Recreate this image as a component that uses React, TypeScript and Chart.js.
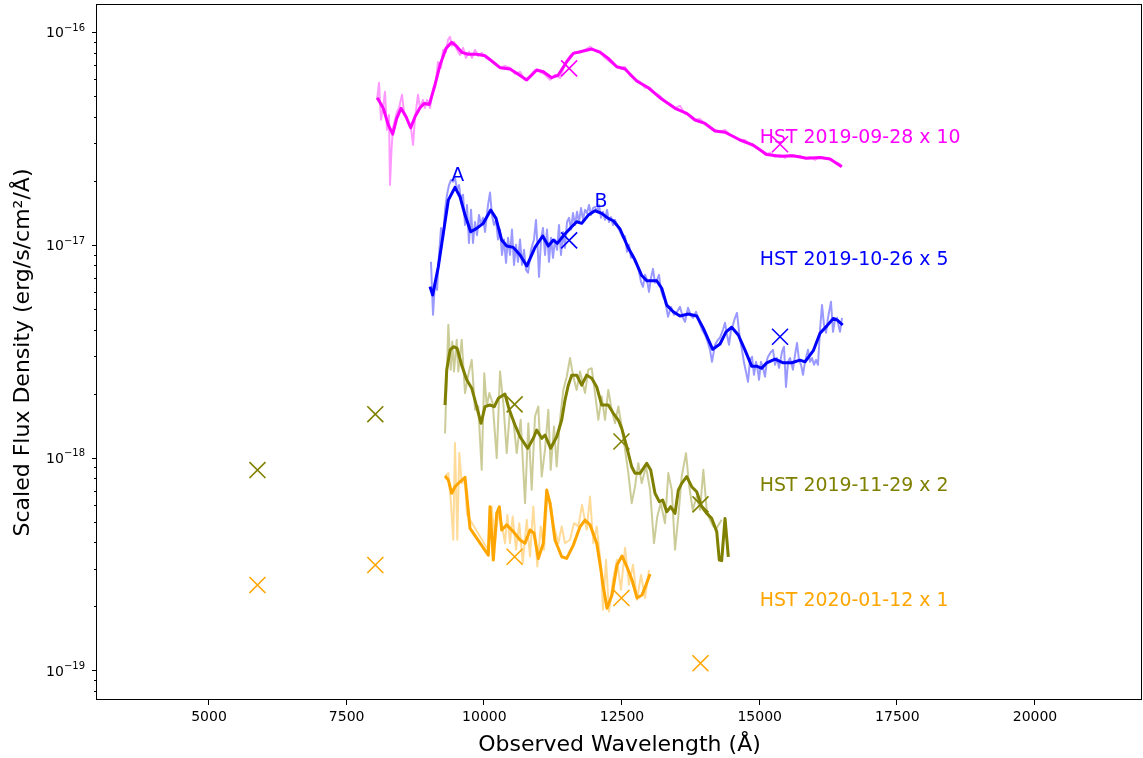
import React, { useEffect, useRef } from 'react';
import { Chart, registerables } from 'chart.js';

Chart.register(...registerables);

type P = [number, number];

// ---- axes ----
const X_MIN = 2966;
const X_MAX = 21943;
const Y_MIN = 7.26e-20;
const Y_MAX = 1.34e-16;
const xTicks = [5000, 7500, 10000, 12500, 15000, 17500, 20000];
const xTickLabels = ['5000', '7500', '10000', '12500', '15000', '17500', '20000'];
const yMajorTicks = [1e-19, 1e-18, 1e-17, 1e-16];
const yTickBase = '10';
const yTickExponents = ['−19', '−18', '−17', '−16'];
const yMinorMultipliers = [2, 3, 4, 5, 6, 7, 8, 9];
const xTitle = 'Observed Wavelength (Å)';
const yTitle = 'Scaled Flux Density (erg/s/cm²/Å)';

// ---- series colours ----
const seriesColors = ['#ff00ff', '#0000ff', '#808000', '#ffa500'];
const rawColors = ['rgba(255,0,255,0.4)', 'rgba(0,0,255,0.4)', 'rgba(128,128,0,0.4)', 'rgba(255,165,0,0.4)'];

// ---- HST 2019-09-28 x 10 (magenta) ----
const magentaRaw: P[] = [[8051,4.80e-17],[8087,5.77e-17],[8123,3.87e-17],[8160,4.40e-17],[8196,5.24e-17],[8232,3.47e-17],[8269,4.08e-17],[8287,1.91e-17],[8314,2.80e-17],[8341,3.55e-17],[8378,3.87e-17],[8414,4.22e-17],[8450,4.40e-17],[8505,5.07e-17],[8541,4.22e-17],[8596,3.95e-17],[8632,3.66e-17],[8668,3.55e-17],[8705,2.95e-17],[8741,3.95e-17],[8795,5.07e-17],[8832,4.40e-17],[8886,4.80e-17],[8922,4.40e-17],[8959,4.80e-17],[9013,4.40e-17],[9068,5.35e-17],[9122,5.96e-17],[9159,7.24e-17],[9213,6.79e-17],[9249,8.25e-17],[9304,8.07e-17],[9340,9.19e-17],[9377,9.49e-17],[9413,8.61e-17],[9449,8.99e-17],[9504,8.25e-17],[9558,7.81e-17],[9613,8.43e-17],[9667,7.56e-17],[9721,8.07e-17],[9776,7.56e-17],[9830,8.25e-17],[9885,7.73e-17],[9957,7.99e-17],[10030,7.56e-17],[10103,7.40e-17],[10194,7.09e-17],[10285,6.79e-17],[10375,6.94e-17],[10466,6.79e-17],[10557,6.36e-17],[10648,6.50e-17],[10739,5.96e-17],[10829,6.23e-17],[10920,6.64e-17],[11011,6.50e-17],[11102,6.30e-17],[11193,5.96e-17],[11283,6.30e-17],[11374,6.09e-17],[11465,7.09e-17],[11556,7.73e-17],[11647,8.07e-17],[11737,7.99e-17],[11828,8.25e-17],[11919,8.52e-17],[12010,8.16e-17],[12101,7.99e-17],[12191,7.56e-17],[12282,7.24e-17],[12373,6.94e-17],[12464,6.79e-17],[12555,6.86e-17],[12645,6.23e-17],[12736,6.03e-17],[12827,5.83e-17],[12918,5.47e-17],[13009,5.47e-17],[13099,5.18e-17],[13190,5.01e-17],[13281,4.70e-17],[13372,4.60e-17],[13463,4.40e-17],[13553,4.50e-17],[13644,4.13e-17],[13735,4.08e-17],[13826,3.87e-17],[13917,3.91e-17],[14007,3.70e-17],[14098,3.55e-17],[14189,3.47e-17],[14280,3.40e-17],[14371,3.47e-17],[14461,3.29e-17],[14552,3.22e-17],[14643,3.11e-17],[14734,3.11e-17],[14825,2.95e-17],[14915,2.89e-17],[15006,2.80e-17],[15097,2.65e-17],[15188,2.71e-17],[15279,2.59e-17],[15369,2.65e-17],[15460,2.56e-17],[15551,2.65e-17],[15642,2.59e-17],[15733,2.62e-17],[15823,2.54e-17],[15914,2.59e-17],[16005,2.51e-17],[16096,2.59e-17],[16187,2.56e-17],[16277,2.54e-17],[16368,2.45e-17],[16459,2.40e-17],[16495,2.33e-17]];
const magentaSmooth: P[] = [[8056,4.91e-17],[8165,4.38e-17],[8256,3.66e-17],[8336,3.31e-17],[8409,3.93e-17],[8487,4.38e-17],[8577,4.0e-17],[8663,3.55e-17],[8741,4.0e-17],[8832,4.41e-17],[8910,4.62e-17],[9001,4.57e-17],[9104,5.64e-17],[9195,7.0e-17],[9304,8.38e-17],[9407,8.95e-17],[9486,8.62e-17],[9589,8.03e-17],[9709,7.86e-17],[9861,7.86e-17],[10012,7.74e-17],[10134,7.31e-17],[10285,6.8e-17],[10466,6.7e-17],[10588,6.4e-17],[10770,5.95e-17],[10951,6.63e-17],[11071,6.51e-17],[11223,6.1e-17],[11343,6.28e-17],[11496,7.25e-17],[11616,7.94e-17],[11797,8.14e-17],[11950,8.32e-17],[12101,8.05e-17],[12251,7.52e-17],[12404,6.87e-17],[12555,6.7e-17],[12767,5.89e-17],[12978,5.47e-17],[13221,4.84e-17],[13463,4.38e-17],[13675,4.15e-17],[13826,3.86e-17],[14007,3.72e-17],[14189,3.43e-17],[14371,3.38e-17],[14643,3.11e-17],[14885,2.94e-17],[15128,2.66e-17],[15369,2.61e-17],[15611,2.62e-17],[15854,2.55e-17],[16096,2.57e-17],[16277,2.53e-17],[16490,2.33e-17]];
const magentaPhot: P[] = [[11540,6.75e-17],[15370,2.97e-17]];

// ---- HST 2019-10-26 x 5 (blue) ----
const blueRaw: P[] = [[9031,8.32e-18],[9068,4.69e-18],[9104,6.70e-18],[9141,6.14e-18],[9177,8.97e-18],[9213,1.20e-17],[9249,1.06e-17],[9286,1.46e-17],[9322,1.72e-17],[9358,1.91e-17],[9395,2.02e-17],[9431,1.98e-17],[9467,2.07e-17],[9504,1.81e-17],[9540,1.91e-17],[9576,1.63e-17],[9613,1.72e-17],[9649,1.24e-17],[9685,1.54e-17],[9721,1.02e-17],[9758,1.46e-17],[9794,1.02e-17],[9830,1.28e-17],[9867,1.11e-17],[9903,1.38e-17],[9939,1.24e-17],[9976,1.34e-17],[10012,1.15e-17],[10067,1.54e-17],[10103,1.76e-17],[10139,1.38e-17],[10176,1.24e-17],[10212,1.31e-17],[10248,1.06e-17],[10285,1.18e-17],[10321,8.97e-18],[10357,1.06e-17],[10394,8.23e-18],[10430,1.08e-17],[10466,8.97e-18],[10502,1.18e-17],[10539,8.05e-18],[10575,1.00e-17],[10611,8.32e-18],[10648,1.06e-17],[10684,8.05e-18],[10720,9.47e-18],[10757,7.63e-18],[10793,7.39e-18],[10847,9.47e-18],[10902,1.06e-17],[10938,1.31e-17],[10975,8.97e-18],[10993,7.07e-18],[11029,1.06e-17],[11065,1.20e-17],[11102,8.97e-18],[11138,1.18e-17],[11174,8.32e-18],[11211,1.08e-17],[11247,8.69e-18],[11283,1.06e-17],[11320,9.47e-18],[11356,1.24e-17],[11392,8.97e-18],[11429,1.15e-17],[11465,9.68e-18],[11501,1.28e-17],[11538,1.34e-17],[11574,1.18e-17],[11610,1.41e-17],[11647,1.24e-17],[11683,1.43e-17],[11719,1.28e-17],[11756,1.49e-17],[11792,1.31e-17],[11828,1.46e-17],[11864,1.41e-17],[11901,1.54e-17],[11937,1.38e-17],[11973,1.49e-17],[12010,1.51e-17],[12046,1.43e-17],[12082,1.54e-17],[12119,1.34e-17],[12155,1.43e-17],[12191,1.31e-17],[12228,1.46e-17],[12264,1.28e-17],[12300,1.35e-17],[12337,1.24e-17],[12373,1.31e-17],[12409,1.24e-17],[12464,1.15e-17],[12518,1.08e-17],[12555,1.10e-17],[12591,9.27e-18],[12627,1.00e-17],[12664,8.69e-18],[12700,8.97e-18],[12736,8.32e-18],[12773,8.05e-18],[12809,7.47e-18],[12845,6.70e-18],[12881,6.35e-18],[12918,7.23e-18],[12954,6.85e-18],[12990,6.01e-18],[13027,7.00e-18],[13063,7.71e-18],[13099,6.63e-18],[13136,6.85e-18],[13172,7.23e-18],[13208,6.14e-18],[13245,5.70e-18],[13281,5.51e-18],[13336,4.59e-18],[13390,5.11e-18],[13444,4.69e-18],[13499,4.84e-18],[13553,5.11e-18],[13608,4.54e-18],[13644,4.35e-18],[13699,5.06e-18],[13753,4.64e-18],[13789,4.54e-18],[13844,4.84e-18],[13898,4.35e-18],[13953,3.99e-18],[14007,3.78e-18],[14043,3.58e-18],[14098,3.21e-18],[14134,2.82e-18],[14189,3.39e-18],[14243,3.58e-18],[14280,3.66e-18],[14334,3.99e-18],[14371,4.30e-18],[14407,3.78e-18],[14443,3.39e-18],[14480,3.99e-18],[14516,4.21e-18],[14552,4.54e-18],[14588,4.79e-18],[14643,3.58e-18],[14679,3.21e-18],[14716,2.79e-18],[14752,2.53e-18],[14788,2.27e-18],[14825,2.88e-18],[14861,2.98e-18],[14897,2.45e-18],[14934,2.82e-18],[14970,2.53e-18],[14988,2.32e-18],[15024,2.82e-18],[15061,2.64e-18],[15097,2.40e-18],[15133,2.88e-18],[15151,2.98e-18],[15206,3.14e-18],[15242,3.21e-18],[15279,2.73e-18],[15315,2.94e-18],[15351,2.64e-18],[15406,3.14e-18],[15442,3.32e-18],[15478,2.15e-18],[15515,2.82e-18],[15551,2.94e-18],[15605,2.59e-18],[15642,3.04e-18],[15678,3.46e-18],[15714,2.88e-18],[15751,2.73e-18],[15787,2.45e-18],[15823,2.82e-18],[15878,3.21e-18],[15914,2.82e-18],[15950,2.94e-18],[15987,2.73e-18],[16023,2.88e-18],[16059,2.73e-18],[16096,3.99e-18],[16132,5.22e-18],[16168,4.21e-18],[16205,3.86e-18],[16241,4.54e-18],[16295,5.40e-18],[16332,3.90e-18],[16368,4.44e-18],[16404,4.54e-18],[16441,4.07e-18],[16459,3.90e-18],[16495,4.54e-18]];
const blueSmooth: P[] = [[9013,6.36e-18],[9062,5.81e-18],[9164,7.89e-18],[9255,1.132e-17],[9346,1.623e-17],[9467,1.863e-17],[9558,1.683e-17],[9649,1.38e-17],[9752,1.152e-17],[9861,1.195e-17],[9981,1.262e-17],[10116,1.457e-17],[10212,1.332e-17],[10315,1.053e-17],[10406,9.87e-18],[10526,9.73e-18],[10648,8.95e-18],[10770,7.95e-18],[10920,9.73e-18],[11060,1.10e-17],[11162,9.87e-18],[11253,1.053e-17],[11325,1.016e-17],[11447,1.112e-17],[11587,1.216e-17],[11677,1.284e-17],[11768,1.262e-17],[11888,1.38e-17],[12010,1.446e-17],[12131,1.406e-17],[12251,1.332e-17],[12342,1.298e-17],[12464,1.187e-17],[12615,9.66e-18],[12736,8.48e-18],[12858,7.17e-18],[12949,6.78e-18],[13130,6.78e-18],[13221,6.25e-18],[13312,5.21e-18],[13431,4.85e-18],[13553,4.63e-18],[13704,4.73e-18],[13857,4.63e-18],[13977,4.05e-18],[14147,3.23e-18],[14280,3.42e-18],[14389,3.90e-18],[14492,4.10e-18],[14612,3.77e-18],[14734,3.20e-18],[14855,2.69e-18],[14946,2.69e-18],[15037,2.63e-18],[15128,2.79e-18],[15279,2.90e-18],[15429,2.79e-18],[15582,2.79e-18],[15733,2.87e-18],[15823,2.82e-18],[15974,3.18e-18],[16096,3.84e-18],[16217,4.15e-18],[16337,4.51e-18],[16410,4.43e-18],[16508,4.20e-18]];
const bluePhot: P[] = [[11540,1.05e-17],[15370,3.70e-18]];

// ---- HST 2019-11-29 x 2 (olive) ----
const oliveRaw: P[] = [[9286,1.30e-18],[9346,4.21e-18],[9389,2.59e-18],[9418,3.51e-18],[9449,2.54e-18],[9498,3.58e-18],[9527,2.54e-18],[9589,3.58e-18],[9649,2.01e-18],[9709,2.45e-18],[9771,2.88e-18],[9831,1.68e-18],[9890,1.74e-18],[9952,8.76e-19],[9999,2.49e-18],[10043,1.74e-18],[10090,2.01e-18],[10152,1.80e-18],[10225,9.95e-19],[10285,2.54e-18],[10345,1.80e-18],[10406,1.05e-18],[10466,1.68e-18],[10526,1.505e-18],[10588,1.05e-18],[10660,1.505e-18],[10739,6.11e-19],[10799,1.45e-18],[10860,7.06e-19],[10920,1.56e-18],[10980,1.74e-18],[11042,8.15e-19],[11102,1.09e-18],[11162,1.68e-18],[11205,8.76e-19],[11265,1.40e-18],[11314,9.08e-19],[11374,1.505e-18],[11434,2.08e-18],[11496,2.40e-18],[11556,2.94e-18],[11616,2.40e-18],[11677,2.08e-18],[11737,2.54e-18],[11828,2.01e-18],[11888,2.59e-18],[11950,2.63e-18],[12010,2.01e-18],[12070,1.505e-18],[12131,1.94e-18],[12191,1.505e-18],[12251,2.08e-18],[12313,1.68e-18],[12373,1.45e-18],[12433,1.74e-18],[12495,1.40e-18],[12555,1.09e-18],[12615,8.46e-19],[12676,6.11e-19],[12736,7.31e-19],[12796,9.42e-19],[12858,7.59e-19],[12936,9.08e-19],[13009,7.06e-19],[13081,3.96e-19],[13141,5.29e-19],[13203,6.11e-19],[13281,4.92e-19],[13341,8.46e-19],[13403,7.06e-19],[13463,3.69e-19],[13523,5.29e-19],[13584,8.15e-19],[13662,1.05e-18],[13722,7.31e-19],[13784,5.68e-19],[13857,6.57e-19],[13917,5.68e-19],[13977,8.76e-19],[14038,5.68e-19],[14098,5.10e-19],[14158,4.75e-19],[14220,4.67e-19],[14310,5.10e-19]];
const oliveSmooth: P[] = [[9286,1.767e-18],[9317,2.58e-18],[9377,3.20e-18],[9437,3.32e-18],[9504,3.27e-18],[9589,2.72e-18],[9680,2.32e-18],[9771,2.12e-18],[9861,1.735e-18],[9940,1.45e-18],[10012,1.735e-18],[10103,1.767e-18],[10181,1.735e-18],[10254,1.90e-18],[10375,1.99e-18],[10453,1.674e-18],[10557,1.423e-18],[10648,1.253e-18],[10788,1.106e-18],[10889,1.232e-18],[10951,1.348e-18],[11042,1.232e-18],[11102,1.277e-18],[11205,1.106e-18],[11314,1.253e-18],[11405,1.502e-18],[11465,1.866e-18],[11525,2.19e-18],[11587,2.44e-18],[11677,2.44e-18],[11768,2.19e-18],[11859,2.44e-18],[11950,2.36e-18],[12041,2.15e-18],[12131,1.767e-18],[12251,1.767e-18],[12342,1.615e-18],[12433,1.502e-18],[12495,1.373e-18],[12585,1.125e-18],[12676,9.06e-19],[12736,8.44e-19],[12827,8.44e-19],[12949,9.40e-19],[13021,8.74e-19],[13099,6.80e-19],[13177,6.21e-19],[13239,6.32e-19],[13312,5.57e-19],[13384,5.88e-19],[13463,5.47e-19],[13523,7.04e-19],[13584,7.57e-19],[13675,8.14e-19],[13766,7.30e-19],[13857,6.91e-19],[13947,5.88e-19],[14038,5.47e-19],[14129,5.18e-19],[14220,4.49e-19],[14267,3.30e-19],[14310,3.28e-19],[14371,5.18e-19],[14431,3.42e-19]];
const olivePhot: P[] = [[5880,8.74e-19],[8020,1.60e-18],[10550,1.78e-18],[12490,1.19e-18],[13925,6.03e-19]];

// ---- HST 2020-01-12 x 1 (orange) ----
const orangeRaw: P[] = [[9286,8.15e-19],[9346,8.46e-19],[9389,6.34e-19],[9436,4.11e-19],[9467,1.17e-18],[9509,4.11e-19],[9545,1.05e-18],[9589,7.59e-19],[9649,7.72e-19],[9685,5.39e-19],[10067,3.69e-19],[10134,5.89e-19],[10194,3.96e-19],[10249,5.39e-19],[10315,4.92e-19],[10375,3.96e-19],[10418,5.39e-19],[10466,3.96e-19],[10515,5.29e-19],[10575,3.69e-19],[10635,4.92e-19],[10697,3.19e-19],[10770,5.10e-19],[10829,3.43e-19],[10889,5.89e-19],[10962,3.08e-19],[11024,4.75e-19],[11084,3.69e-19],[11144,6.57e-19],[11205,6.11e-19],[11265,4.75e-19],[11344,3.96e-19],[11405,4.75e-19],[11465,3.96e-19],[11556,4.11e-19],[11628,4.92e-19],[11707,4.75e-19],[11774,6.00e-19],[11859,4.58e-19],[11919,6.57e-19],[11979,3.96e-19],[12041,4.75e-19],[12113,3.19e-19],[12155,1.93e-19],[12210,3.31e-19],[12264,1.89e-19],[12337,2.67e-19],[12409,3.31e-19],[12482,2.39e-19],[12555,3.77e-19],[12627,2.53e-19],[12700,3.14e-19],[12773,2.15e-19],[12845,2.81e-19],[12918,2.19e-19],[12990,2.97e-19]];
const orangeSmooth: P[] = [[9286,8.19e-19],[9346,7.85e-19],[9407,6.80e-19],[9467,7.30e-19],[9558,7.70e-19],[9649,8.08e-19],[9740,4.65e-19],[10072,3.48e-19],[10103,5.88e-19],[10163,3.30e-19],[10225,5.47e-19],[10272,5.88e-19],[10315,4.57e-19],[10406,4.83e-19],[10526,4.49e-19],[10648,4.10e-19],[10739,3.96e-19],[10829,4.57e-19],[10902,4.41e-19],[10980,3.36e-19],[11071,3.96e-19],[11133,7.04e-19],[11193,6.10e-19],[11283,4.10e-19],[11405,3.42e-19],[11496,3.36e-19],[11616,3.88e-19],[11737,4.73e-19],[11828,5.09e-19],[11919,4.83e-19],[12041,3.96e-19],[12113,3.02e-19],[12155,2.52e-19],[12228,1.96e-19],[12318,2.26e-19],[12409,3.13e-19],[12500,3.45e-19],[12591,3.06e-19],[12682,2.66e-19],[12772,2.19e-19],[12863,2.26e-19],[12936,2.52e-19],[13009,2.84e-19]];
const orangePhot: P[] = [[5880,2.52e-19],[8020,3.13e-19],[10550,3.42e-19],[12490,2.19e-19],[13925,1.08e-19]];

// ---- text annotations ----
const epochLabels = ['HST 2019-09-28 x 10', 'HST 2019-10-26 x 5', 'HST 2019-11-29 x 2', 'HST 2020-01-12 x 1'];
const epochLabelWave = [15000, 15000, 15000, 15000];
const epochLabelFlux = [3e-17, 8e-18, 7e-19, 2e-19];
const featureLabels = ['A', 'B'];
const featureWave = [9400, 12000];
const featureFlux = [2e-17, 1.5e-17];

const FONT = "'DejaVu Sans', sans-serif";

const toXY = (arr: P[]) => arr.map(([x, y]) => ({ x, y }));

export default function App() {
  const ref = useRef<HTMLCanvasElement>(null);

  useEffect(() => {
    const canvas = ref.current;
    if (!canvas) return;

    const yAllTicks: { value: number; major: boolean }[] = [];
    const decades = [1e-20, 1e-19, 1e-18, 1e-17, 1e-16];
    decades.forEach((d) => {
      if (d >= Y_MIN && d <= Y_MAX) yAllTicks.push({ value: d, major: true });
      yMinorMultipliers.forEach((m) => {
        const v = m * d;
        if (v >= Y_MIN && v <= Y_MAX) yAllTicks.push({ value: v, major: false });
      });
    });
    yAllTicks.sort((a, b) => a.value - b.value);

    const overlay = {
      id: 'overlay',
      afterDatasetsDraw(chart: any) {
        const { ctx, scales } = chart;
        ctx.save();
        ctx.font = `18.9px ${FONT}`;
        ctx.textAlign = 'left';
        ctx.textBaseline = 'alphabetic';
        epochLabels.forEach((t, i) => {
          ctx.fillStyle = seriesColors[i];
          ctx.fillText(t, scales.x.getPixelForValue(epochLabelWave[i]), scales.y.getPixelForValue(epochLabelFlux[i]));
        });
        ctx.fillStyle = seriesColors[1];
        featureLabels.forEach((t, i) => {
          ctx.fillText(t, scales.x.getPixelForValue(featureWave[i]), scales.y.getPixelForValue(featureFlux[i]));
        });
        ctx.restore();
      },
      afterDraw(chart: any) {
        const { ctx, chartArea: a, scales } = chart;
        ctx.save();
        // frame
        ctx.strokeStyle = '#000';
        ctx.lineWidth = 1;
        ctx.strokeRect(Math.round(a.left) - 0.5, Math.round(a.top) - 0.5, Math.round(a.right - a.left), Math.round(a.bottom - a.top));
        // tick marks
        ctx.beginPath();
        xTicks.forEach((v) => {
          const px = Math.round(scales.x.getPixelForValue(v)) - 0.5;
          ctx.moveTo(px, a.bottom);
          ctx.lineTo(px, a.bottom + 5);
        });
        yAllTicks.forEach((t) => {
          const py = Math.round(scales.y.getPixelForValue(t.value)) + 0.5;
          ctx.moveTo(a.left, py);
          ctx.lineTo(a.left - (t.major ? 5 : 3), py);
        });
        ctx.stroke();
        // y tick labels: 10 with superscript exponent
        ctx.fillStyle = '#000';
        ctx.textAlign = 'left';
        ctx.textBaseline = 'alphabetic';
        const right = a.left - 12;
        yMajorTicks.forEach((v, i) => {
          const py = scales.y.getPixelForValue(v);
          ctx.font = `10px ${FONT}`;
          const wExp = ctx.measureText(yTickExponents[i]).width;
          ctx.font = `14px ${FONT}`;
          const wBase = ctx.measureText(yTickBase).width;
          ctx.fillText(yTickBase, right - wExp - wBase, py + 5.2);
          ctx.font = `10px ${FONT}`;
          ctx.fillText(yTickExponents[i], right - wExp, py - 1.3);
        });
        ctx.restore();
      },
    };

    const lineDs = (data: P[], color: string, width: number, order: number) => ({
      data: toXY(data),
      borderColor: color,
      backgroundColor: color,
      borderWidth: width,
      pointRadius: 0,
      tension: 0,
      fill: false,
      borderJoinStyle: 'round' as const,
      order,
    });
    const photDs = (data: P[], color: string) => ({
      data: toXY(data),
      showLine: false,
      pointStyle: 'crossRot' as const,
      pointRadius: 11.3,
      pointBorderWidth: 1.6,
      pointBorderColor: color,
      pointBackgroundColor: color,
      borderColor: color,
      order: 0,
    });

    const raws = [magentaRaw, blueRaw, oliveRaw, orangeRaw];
    const smooths = [magentaSmooth, blueSmooth, oliveSmooth, orangeSmooth];
    const phots = [magentaPhot, bluePhot, olivePhot, orangePhot];
    const datasets: any[] = [];
    raws.forEach((r, i) => datasets.push(lineDs(r, rawColors[i], 2, 3)));
    smooths.forEach((s, i) => datasets.push(lineDs(s, seriesColors[i], 3, 2)));
    phots.forEach((p, i) => datasets.push(photDs(p, seriesColors[i])));

    const chart = new Chart(canvas, {
      type: 'line',
      data: { datasets },
      options: {
        responsive: false,
        animation: false,
        devicePixelRatio: 1,
        layout: { autoPadding: false, padding: { top: 5, right: 1, left: 0, bottom: 0 } },
        plugins: { legend: { display: false }, tooltip: { enabled: false } },
        scales: {
          x: {
            type: 'linear',
            min: X_MIN,
            max: X_MAX,
            afterBuildTicks: (s: any) => {
              s.ticks = xTicks.map((v) => ({ value: v }));
            },
            afterFit: (s: any) => {
              s.height = 58;
              s.paddingLeft = 0;
              s.paddingRight = 0;
              s.paddingTop = 0;
              s.paddingBottom = 0;
            },
            grid: { display: false, drawTicks: false, tickLength: 0 },
            border: { display: false },
            ticks: {
              color: '#000',
              font: { family: FONT, size: 14 },
              padding: 9,
              autoSkip: false,
              maxRotation: 0,
              minRotation: 0,
              callback: (v: any) => {
                const i = xTicks.indexOf(Number(v));
                return i >= 0 ? xTickLabels[i] : '';
              },
            },
            title: {
              display: true,
              text: xTitle,
              color: '#000',
              font: { family: FONT, size: 22 },
              padding: { top: 0, bottom: 0 },
            },
          },
          y: {
            type: 'logarithmic',
            min: Y_MIN,
            max: Y_MAX,
            afterBuildTicks: (s: any) => {
              s.ticks = yAllTicks.map((t) => ({ value: t.value, major: t.major }));
            },
            afterFit: (s: any) => {
              s.width = 97;
              s.paddingLeft = 0;
              s.paddingRight = 0;
              s.paddingTop = 0;
              s.paddingBottom = 0;
            },
            grid: { display: false, drawTicks: false, tickLength: 0 },
            border: { display: false },
            ticks: { display: false },
            title: {
              display: true,
              text: yTitle,
              color: '#000',
              font: { family: FONT, size: 22 },
              padding: { top: 10, bottom: 0 },
            },
          },
        },
      },
      plugins: [overlay],
    } as any);

    return () => chart.destroy();
  }, []);

  return (
    <div style={{ position: 'absolute', left: 0, top: 0, width: 1143, height: 758, background: '#fff' }}>
      <canvas ref={ref} width={1143} height={758} style={{ display: 'block' }} />
    </div>
  );
}
